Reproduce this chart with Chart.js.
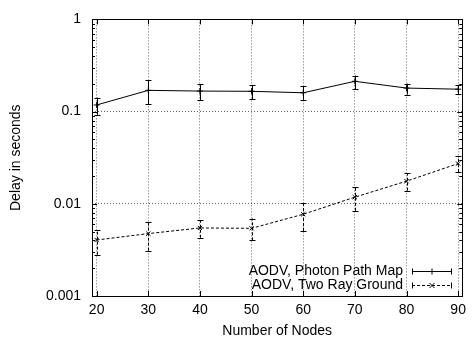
<!DOCTYPE html>
<html>
<head>
<meta charset="utf-8">
<script src="https://cdn.jsdelivr.net/npm/chart.js@4"></script>
<style>
  html, body { margin: 0; padding: 0; background: #fff; }
  #wrap { width: 472px; height: 338px; }
</style>
</head>
<body>
<div id="wrap"><canvas id="delayChart" width="472" height="338"></canvas></div>
<script>
// values
const nodes = [20, 30, 40, 50, 60, 70, 80, 90];
const photonDelay = [0.118, 0.17, 0.167, 0.166, 0.16, 0.213, 0.18, 0.175];
const photonLow = [0.092, 0.12, 0.133, 0.137, 0.134, 0.175, 0.153, 0.154];
const photonHigh = [0.142, 0.22, 0.198, 0.195, 0.188, 0.246, 0.201, 0.195];
const twoRayDelay = [0.00405, 0.00475, 0.00547, 0.00542, 0.0077, 0.0118, 0.0176, 0.0273];
const twoRayLow = [0.00281, 0.0031, 0.00428, 0.00401, 0.00508, 0.0084, 0.0139, 0.0221];
const twoRayHigh = [0.00524, 0.0063, 0.00668, 0.00692, 0.0101, 0.0151, 0.0214, 0.0326];
const seriesNames = ['AODV, Photon Path Map', 'AODV, Two Ray Ground'];
const xTicks = [20, 30, 40, 50, 60, 70, 80, 90];
const yTicks = [0.001, 0.01, 0.1, 1];
const yTickLabels = ['0.001', '0.01', '0.1', '1'];

const FONT = 'Liberation Sans, Arial, Helvetica, sans-serif';

function pts(ys) {
    return nodes.map((x, i) => ({ x: x, y: ys[i] }));
}

// error bars, box ticks and legend drawn through the chart scales
const gnuplotBits = {
    id: 'gnuplotBits',
    afterDatasetsDraw(chart) {
        const ctx = chart.ctx;
        const xs = chart.scales.x, ys = chart.scales.y;
        const area = chart.chartArea;
        const errs = [[photonLow, photonHigh], [twoRayLow, twoRayHigh]];
        ctx.save();
        ctx.strokeStyle = '#000';
        ctx.lineWidth = 1;
        chart.data.datasets.forEach((ds, d) => {
            ctx.setLineDash(ds.borderDash || []);
            nodes.forEach((n, i) => {
                const px = Math.round(xs.getPixelForValue(n)) + 0.5;
                const lo = ys.getPixelForValue(errs[d][0][i]);
                const hi = ys.getPixelForValue(errs[d][1][i]);
                ctx.beginPath();
                ctx.moveTo(px, lo); ctx.lineTo(px, hi);
                ctx.stroke();
                ctx.setLineDash([]);
                ctx.beginPath();
                ctx.moveTo(px - 3, Math.round(lo) + 0.5); ctx.lineTo(px + 3, Math.round(lo) + 0.5);
                ctx.moveTo(px - 3, Math.round(hi) + 0.5); ctx.lineTo(px + 3, Math.round(hi) + 0.5);
                ctx.stroke();
                ctx.setLineDash(ds.borderDash || []);
            });
        });
        ctx.setLineDash([]);

        // tick marks inside the box, mirrored
        ctx.beginPath();
        xTicks.forEach(v => {
            const px = Math.round(xs.getPixelForValue(v)) + 0.5;
            ctx.moveTo(px, area.bottom); ctx.lineTo(px, area.bottom - 5);
            ctx.moveTo(px, area.top); ctx.lineTo(px, area.top + 5);
        });
        for (let e = -3; e <= 0; e++) {
            for (let m = 1; m <= 9; m++) {
                const v = m * Math.pow(10, e);
                if (v > 1.0001) break;
                const py = Math.round(ys.getPixelForValue(v)) + 0.5;
                const len = m === 1 ? 5 : 3;
                ctx.moveTo(area.left, py); ctx.lineTo(area.left + len, py);
                ctx.moveTo(area.right, py); ctx.lineTo(area.right - len, py);
            }
        }
        ctx.stroke();

        // frame
        ctx.strokeRect(Math.round(area.left) + 0.5, Math.round(area.top) + 0.5,
            Math.round(area.right - area.left), Math.round(area.bottom - area.top));

        // legend
        ctx.font = '14px ' + FONT;
        ctx.fillStyle = '#000';
        ctx.textAlign = 'right';
        ctx.textBaseline = 'middle';
        const rows = [271, 285];
        chart.data.datasets.forEach((ds, d) => {
            const y = rows[d];
            ctx.fillText(ds.label, 403, y);
            const yy = y + 0.5;
            ctx.setLineDash(ds.borderDash || []);
            ctx.beginPath();
            ctx.moveTo(412, yy); ctx.lineTo(452, yy);
            ctx.stroke();
            ctx.setLineDash([]);
            ctx.beginPath();
            ctx.moveTo(412.5, yy - 3); ctx.lineTo(412.5, yy + 3);
            ctx.moveTo(451.5, yy - 3); ctx.lineTo(451.5, yy + 3);
            if (d === 0) {
                ctx.moveTo(432, yy - 3); ctx.lineTo(432, yy + 3);
                ctx.moveTo(429, yy); ctx.lineTo(435, yy);
            } else {
                ctx.moveTo(429.5, yy - 2.5); ctx.lineTo(434.5, yy + 2.5);
                ctx.moveTo(429.5, yy + 2.5); ctx.lineTo(434.5, yy - 2.5);
            }
            ctx.stroke();
        });
        ctx.restore();
    }
};

const delayCtx = document.getElementById('delayChart').getContext('2d');
const delayChart = new Chart(delayCtx, {
    type: 'line',
    data: {
        datasets: [
            {
                label: seriesNames[0],
                data: pts(photonDelay),
                borderColor: '#000',
                borderWidth: 1,
                pointStyle: 'cross',
                pointRadius: 3,
                pointBorderColor: '#000',
                pointBorderWidth: 1,
                tension: 0,
            },
            {
                label: seriesNames[1],
                data: pts(twoRayDelay),
                borderColor: '#000',
                borderWidth: 1,
                borderDash: [3, 2],
                pointStyle: 'crossRot',
                pointRadius: 3,
                pointBorderColor: '#000',
                pointBorderWidth: 1,
                tension: 0,
            },
        ],
    },
    options: {
        responsive: false,
        animation: false,
        events: [],
        layout: { padding: { left: 0, top: 12, right: 5, bottom: 0 } },
        plugins: {
            legend: { display: false },
            tooltip: { enabled: false },
        },
        scales: {
            x: {
                type: 'linear',
                min: 19.1,
                max: 90.8,
                afterBuildTicks: s => { s.ticks = xTicks.map(v => ({ value: v })); },
                afterFit: s => { s.height = 42; },
                border: { display: false, dash: [1, 2] },
                grid: { color: 'rgba(0,0,0,0.6)', drawTicks: false },
                ticks: {
                    color: '#000',
                    padding: 6,
                    maxRotation: 0,
                    font: { family: FONT, size: 14 },
                    callback: v => String(v),
                },
                title: {
                    display: true,
                    text: 'Number of Nodes',
                    color: '#000',
                    padding: 0,
                    font: { family: FONT, size: 14, lineHeight: 1 },
                },
            },
            y: {
                type: 'logarithmic',
                min: 0.001,
                max: 1,
                afterBuildTicks: s => { s.ticks = yTicks.map(v => ({ value: v })); },
                afterFit: s => { s.width = 92; },
                border: { display: false, dash: [1, 2] },
                grid: { color: 'rgba(0,0,0,0.6)', drawTicks: false },
                ticks: {
                    color: '#000',
                    padding: 11,
                    font: { family: FONT, size: 14 },
                    callback: (v) => yTickLabels[yTicks.indexOf(v)] || '',
                },
                title: {
                    display: true,
                    text: 'Delay in seconds',
                    color: '#000',
                    padding: { top: 8, bottom: 0 },
                    font: { family: FONT, size: 14 },
                },
            },
        },
    },
    plugins: [gnuplotBits],
});
</script>
</body>
</html>
